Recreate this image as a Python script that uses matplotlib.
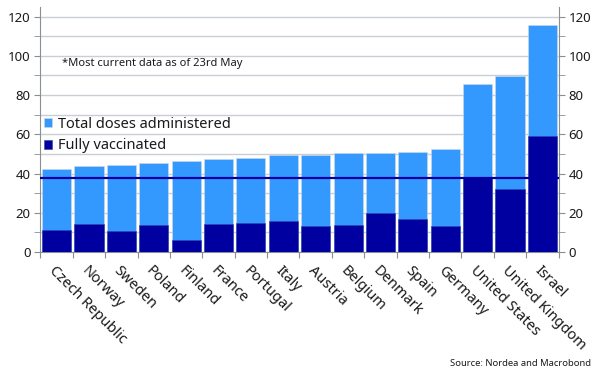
import matplotlib
matplotlib.use("Agg")
import matplotlib.pyplot as plt
import numpy as np

countries = ["Czech Republic", "Norway", "Sweden", "Poland", "Finland", "France",
             "Portugal", "Italy", "Austria", "Belgium", "Denmark", "Spain",
             "Germany", "United States", "United Kingdom", "Israel"]
total_doses = [42.2, 43.7, 44.2, 45.6, 46.2, 47.3, 48.1, 49.3, 49.6, 50.5,
               50.7, 51.0, 52.5, 85.5, 89.7, 115.9]
fully_vacc = [11.2, 14.1, 10.7, 13.9, 6.3, 14.4, 14.8, 16.0, 13.4, 13.8,
              20.1, 17.0, 13.3, 37.9, 32.1, 59.2]
ref_country = "United States"
yticks = [0, 20, 40, 60, 80, 100, 120]

plt.rcParams['font.family'] = ['Noto Sans', 'DejaVu Sans']

light = "#3399ff"
dark = "#0000a0"
gridc = "#c8ced3"
spinec = "#8a8f94"
textc = "#1a1a1a"

fig = plt.figure(figsize=(6.02, 3.81), dpi=100)
ax = fig.add_axes([0.067, 0.3386, 0.861, 0.6434])

x = np.arange(len(countries))
ax.bar(x, total_doses, width=0.9, color=light, edgecolor="#d0d8e0", linewidth=0.4,
       label="Total doses administered", zorder=2)
ax.bar(x, fully_vacc, width=0.9, color=dark, edgecolor="#3344aa", linewidth=0.4,
       label="Fully vaccinated", zorder=3)
ax.axhline(fully_vacc[countries.index(ref_country)], color=dark, lw=1.6, zorder=4)

ax.set_xlim(-0.5, len(countries) - 0.5)
ax.set_ylim(0, 125)
ax.set_yticks(yticks)
ax.set_yticks(np.arange(10, 125, 20), minor=True)
ax.yaxis.grid(True, which="both", color=gridc, lw=1.0, zorder=0)
ax.set_axisbelow(True)

ax.tick_params(axis="y", which="both", left=True, right=True, labelleft=True,
               labelright=True, direction="out", length=4, color=spinec,
               labelsize=9.5, labelcolor=textc, pad=3)
ax.tick_params(axis="y", which="minor", length=4)

ax.set_xticks(np.arange(-0.5, len(countries), 1.0))
ax.set_xticklabels([])
ax.tick_params(axis="x", which="major", direction="out", length=4, color=spinec)
ax.set_xticks(x, minor=True)
ax.set_xticklabels(countries, minor=True, rotation=-45, ha="left", va="top",
                   rotation_mode="anchor", fontsize=10.5, color=textc)
ax.tick_params(axis="x", which="minor", length=0, pad=8)

for s in ["top"]:
    ax.spines[s].set_visible(False)
for s in ["left", "right", "bottom"]:
    ax.spines[s].set_color(spinec)
    ax.spines[s].set_linewidth(0.8)

ax.text(0.042, 0.77, "*Most current data as of 23rd May", transform=ax.transAxes,
        fontsize=8, color=textc, va="center", ha="left")

leg = ax.legend(loc="upper left", bbox_to_anchor=(-0.005, 0.575), frameon=False,
                fontsize=10.5, handlelength=0.6, handleheight=0.6, handletextpad=0.4,
                labelspacing=0.45, borderaxespad=0)
for t in leg.get_texts():
    t.set_color(textc)

fig.text(0.982, 0.047, "Source: Nordea and Macrobond", ha="right", va="center",
         fontsize=6.8, color=textc)

fig.savefig("out.png", dpi=100)
